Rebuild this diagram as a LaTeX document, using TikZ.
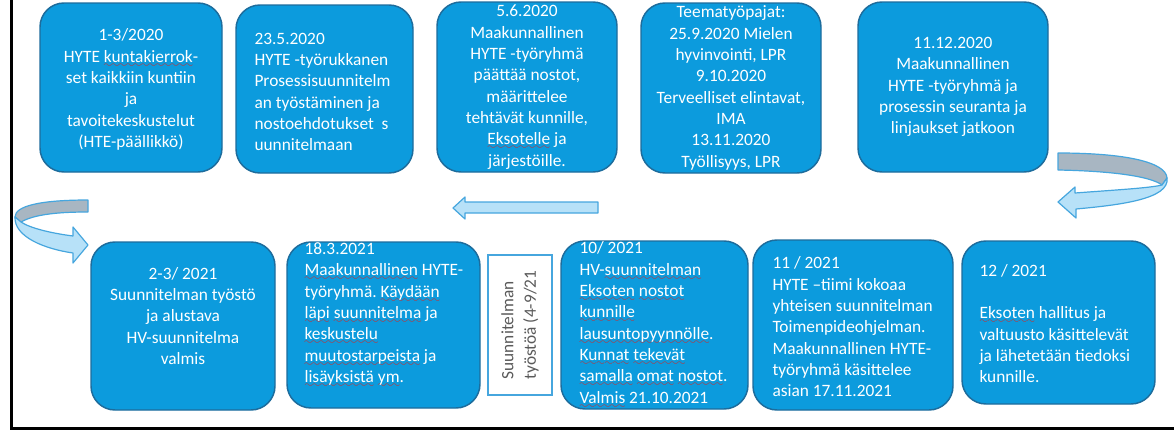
\documentclass[tikz,border=0pt]{standalone}
\usepackage{fontspec}
\setmainfont{Carlito}
\usepackage{xcolor}
\usepackage{tikz}
\usetikzlibrary{calc}
\frenchspacing
\definecolor{cBox}{HTML}{0C9BDD}
\definecolor{cEdge}{HTML}{1D6C9C}
\definecolor{cArrow}{HTML}{B7E1F8}
\definecolor{cArrowEdge}{HTML}{46A6DE}
\definecolor{cBack}{HTML}{A8B6C2}
\definecolor{cNote}{HTML}{5A5A5A}
\definecolor{cSpell}{HTML}{E0201A}
% red wavy spell-check line under a word
\font\spkwave=lasy7
\newcommand{\spk}[1]{\setbox0\hbox{#1}\rlap{\lower3.8pt\hbox to\wd0{\color{cSpell}\xleaders\hbox{\spkwave\char58}\hfill}}\box0\relax}
\tikzset{
  card/.style  ={draw=cEdge, fill=cBox, line width=1.1pt, rounded corners=18pt, inner sep=0pt},
  ctxt/.style  ={text=white, align=center, inner sep=0pt, font=\fontsize{13}{16}\selectfont},
  ltxt/.style  ={text=white, align=left, anchor=west, inner sep=0pt, font=\fontsize{13}{16}\selectfont},
  note/.style  ={draw=cArrowEdge, fill=white, line width=1.5pt, inner sep=0pt},
  ntxt/.style  ={text=cNote, align=left, rotate=90, inner sep=0pt, font=\fontsize{13}{17}\selectfont},
  barrow/.style={draw=cArrowEdge, fill=cArrow, line width=0.9pt, line join=round},
  bback/.style ={draw=cArrowEdge, fill=cBack, line width=0.9pt, line join=round},
}

\begin{document}
\begin{tikzpicture}[x=0.75pt, y=-0.75pt]
  \useasboundingbox (0,0) rectangle (1174,432);
  \draw[line width=2.25pt] (11.5,0) -- (11.5,428.5) -- (1174,428.5);

  % 2020 row
  \node[card, minimum width=136.5pt, minimum height=126.75pt] (k1) at (131,87.5) {};
  \node[card, minimum width=132.75pt, minimum height=126pt] (k2) at (324.5,89) {};
  \node[card, minimum width=135pt, minimum height=127.5pt] (k3) at (527,87) {};
  \node[card, minimum width=135pt, minimum height=127.5pt] (k4) at (731,88) {};
  \node[card, minimum width=142.5pt, minimum height=127.5pt] (k5) at (953,87) {};

  \node[ctxt] (t1) at ($(k1.center)+(0,2)$) {1-3/2020\\ HYTE \spk{kuntakierrok}-\\ set kaikkiin kuntiin\\ ja\\ tavoitekeskustelut\\ (HTE-päällikkö)};
  \node[ltxt] (t2) at ($(k2.west)+(19,3)$) {23.5.2020\\ HYTE -työrukkanen\\ Prosessisuunnitelm\\ an työstäminen ja\\ nostoehdotukset~ s\\ uunnitelmaan};
  \node[ctxt] (t3) at (k3.center) {5.6.2020\\ Maakunnallinen\\ HYTE -työryhmä\\ päättää nostot,\\ määrittelee\\ tehtävät kunnille,\\ \spk{Eksotelle} ja\\ järjestöille.};
  \node[ctxt] (t4) at (k4.center) {Teematyöpajat:\\ 25.9.2020 Mielen\\ hyvinvointi, LPR\\ 9.10.2020\\ Terveelliset elintavat,\\ IMA\\ 13.11.2020\\ Työllisyys, LPR};
  \node[ctxt] (t5) at (k5.center) {11.12.2020\\ Maakunnallinen\\ HYTE -työryhmä ja\\ prosessin seuranta ja\\ linjaukset jatkoon};

  % 2021 row
  \node[card, minimum width=138pt, minimum height=126pt] (k6) at (183,326) {};
  \node[card, minimum width=144.75pt, minimum height=124.5pt] (k7) at (383.5,325) {};
  \node[note, minimum width=48pt, minimum height=105pt] (v) at (520,325) {};
  \node[card, minimum width=140.25pt, minimum height=126pt] (k8) at (654.5,325) {};
  \node[card, minimum width=150pt, minimum height=127.5pt] (k9) at (853,325) {};
  \node[card, minimum width=144.75pt, minimum height=122.25pt] (k10) at (1058.5,322.5) {};

  \node[ctxt] (t6) at ($(k6.center)+(0,-10)$) {2-3/ 2021\\ Suunnitelman työstö\\ ja alustava\\ HV-suunnitelma\\ valmis};
  \node[ltxt] (t7) at ($(k7.west)+(18,-10)$) {18.3.2021\\ \spk{Maakunnallinen} HYTE-\\ työryhmä. \spk{Käydään}\\ \spk{läpi} \spk{suunnitelma} ja\\ \spk{keskustelu}\\ \spk{muutostarpeista} ja\\ \spk{lisäyksistä} \spk{ym}.};
  \node[ntxt] (tv) at (v.center) {Suunnitelman\\ työstöä (4-9/21};
  \node[ltxt] (t8) at ($(k8.west)+(19,0)$) {10/ 2021\\ HV-\spk{suunnitelman}\\ \spk{Eksoten} \spk{nostot}\\ \spk{kunnille}\\ \spk{lausuntopyynnölle}.\\ \spk{Kunnat} \spk{tekevät}\\ \spk{samalla} \spk{omat} \spk{nostot}.\\ \spk{Valmis} 21.10.2021};
  \node[ltxt] (t9) at ($(k9.west)+(20,2)$) {11 / 2021\\ HYTE –tiimi kokoaa\\ yhteisen suunnitelman\\ Toimenpideohjelman.\\ Maakunnallinen HYTE-\\ työryhmä käsittelee\\ asian 17.11.2021};
  \node[ltxt] (t10) at ($(k10.west)+(18,1)$) {12 / 2021\\[16pt] \spk{Eksoten} hallitus ja\\ valtuusto käsittelevät\\ ja lähetetään tiedoksi\\ kunnille.};

  % block arrows
  \draw[bback] (1058,153) .. controls (1125,153) and (1166,162) .. (1167,178) -- (1162,185) .. controls (1150,176) and (1110,171) .. (1058,170) -- cycle;
  \draw[barrow] (1167,178) .. controls (1170,199) and (1120,205) .. (1076,209) -- (1076,218) -- (1058,202) -- (1075,187) -- (1075,193) .. controls (1115,190) and (1150,188) .. (1162,185) -- cycle;
  \draw[barrow] (598,202) -- (465,202) -- (465,197) -- (453,208) -- (465,219) -- (465,213) -- (598,213) -- cycle;
  \draw[bback] (88,200) .. controls (40,200) and (15,206) .. (15,217) -- (21,222) .. controls (35,214) and (60,212) .. (88,212) -- cycle;
  \draw[barrow] (15,217) .. controls (14,237) and (45,249) .. (73,253) -- (73,263) -- (88,245) -- (73,227) -- (73,236) .. controls (50,233) and (30,228) .. (21,222) -- cycle;
\end{tikzpicture}
\end{document}
